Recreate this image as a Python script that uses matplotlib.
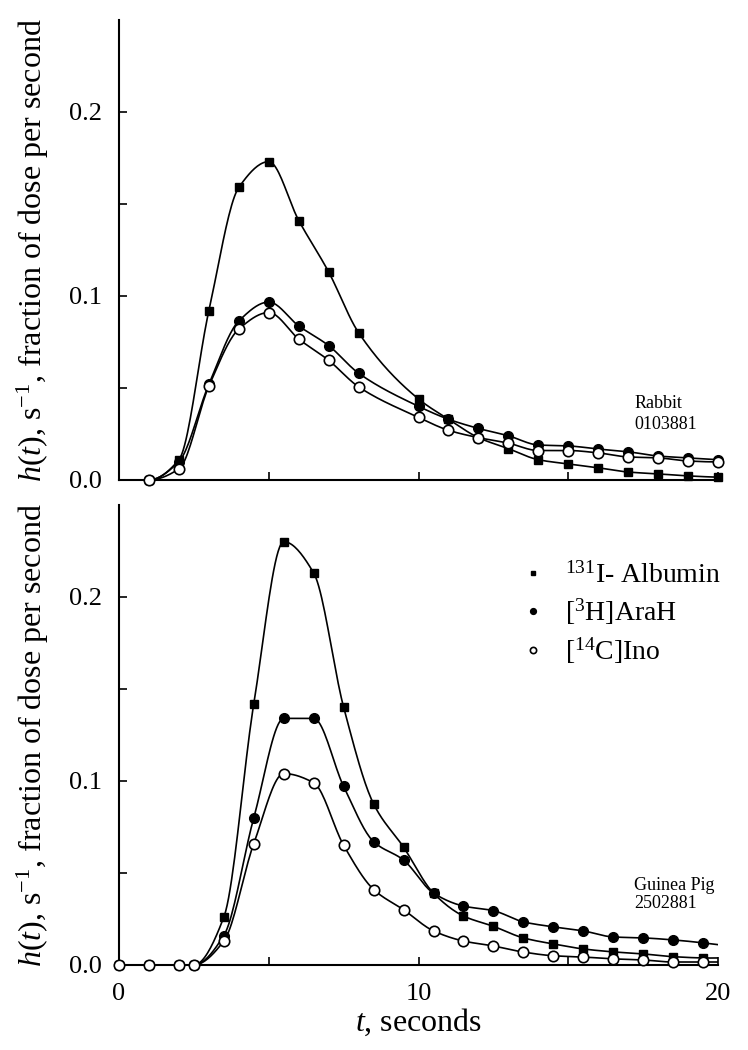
import numpy as np
import matplotlib
matplotlib.use("Agg")
import matplotlib.pyplot as plt

plt.rcParams["font.family"] = ["Liberation Serif", "DejaVu Serif"]
plt.rcParams["mathtext.fontset"] = "custom"
plt.rcParams["mathtext.rm"] = "Liberation Serif"
plt.rcParams["mathtext.it"] = "Liberation Serif:italic"

# Rabbit 0103881
t_top = [1, 2, 3, 4, 5, 6, 7, 8, 10, 11, 12, 13, 14, 15, 16, 17, 18, 19, 20]
albumin_top = [0.0, 0.011, 0.092, 0.159, 0.173, 0.141, 0.113, 0.080, 0.044, 0.033,
               0.023, 0.017, 0.011, 0.0087, 0.0066, 0.0043, 0.0033, 0.0022, 0.0015]
arah_top = [0.0, 0.010, 0.052, 0.0864, 0.0967, 0.0837, 0.073, 0.058, 0.040, 0.033,
            0.028, 0.024, 0.019, 0.0185, 0.0168, 0.0153, 0.013, 0.012, 0.011]
ino_top = [0.0, 0.006, 0.051, 0.082, 0.091, 0.0766, 0.065, 0.0506, 0.034, 0.027,
           0.023, 0.020, 0.016, 0.016, 0.0147, 0.0125, 0.012, 0.0103, 0.0098]

# Guinea Pig 2502881
t_bot = [0, 1, 2, 2.5, 3.5, 4.5, 5.5, 6.5, 7.5, 8.5, 9.5, 10.5, 11.5, 12.5, 13.5,
         14.5, 15.5, 16.5, 17.5, 18.5, 19.5]
albumin_bot = [0.0, 0.0, 0.0, 0.0, 0.026, 0.142, 0.230, 0.213, 0.140, 0.0875, 0.064,
               0.039, 0.0266, 0.021, 0.0147, 0.0114, 0.0087, 0.0071, 0.006, 0.0045, 0.0038]
arah_bot = [0.0, 0.0, 0.0, 0.0, 0.016, 0.080, 0.134, 0.134, 0.097, 0.067, 0.057,
            0.039, 0.032, 0.0295, 0.0234, 0.0207, 0.0185, 0.0152, 0.0147, 0.0136, 0.012]
ino_bot = [0.0, 0.0, 0.0, 0.0, 0.013, 0.066, 0.104, 0.099, 0.065, 0.041, 0.030,
           0.0185, 0.013, 0.0103, 0.007, 0.005, 0.0043, 0.0033, 0.0027, 0.0016, 0.0016]

LABELS = [r"$^{131}$I- Albumin", r"[$^{3}$H]AraH", r"[$^{14}$C]Ino"]


def pchip(x, y, xs):
    """Monotone cubic (Fritsch-Carlson) through (x, y), evaluated at xs."""
    x = np.asarray(x, float)
    y = np.asarray(y, float)
    h = np.diff(x)
    d = np.diff(y) / h
    n = len(x)
    s = np.zeros(n)
    for i in range(1, n - 1):
        if d[i - 1] * d[i] > 0:
            w1 = 2 * h[i] + h[i - 1]
            w2 = h[i] + 2 * h[i - 1]
            s[i] = (w1 + w2) / (w1 / d[i - 1] + w2 / d[i])
    for i, j, k in ((0, 0, 1), (n - 1, -1, -2)):
        hj, hk = h[j], h[k]
        e = ((2 * hj + hk) * d[j] - hj * d[k]) / (hj + hk)
        if np.sign(e) != np.sign(d[j]):
            e = 0.0
        elif np.sign(d[j]) != np.sign(d[k]) and abs(e) > abs(3 * d[j]):
            e = 3 * d[j]
        s[i] = e
    k = np.clip(np.searchsorted(x, xs) - 1, 0, n - 2)
    hk = x[k + 1] - x[k]
    u = (xs - x[k]) / hk
    return ((2 * u**3 - 3 * u**2 + 1) * y[k] + (u**3 - 2 * u**2 + u) * hk * s[k]
            + (-2 * u**3 + 3 * u**2) * y[k + 1] + (u**3 - u**2) * hk * s[k + 1])


def draw_panel(ax, t, series, note, show_xlabels):
    styles = [
        dict(marker="s", ms=5.5, mfc="black", mec="black"),
        dict(marker="o", ms=7, mfc="black", mec="black"),
        dict(marker="o", ms=7.5, mfc="white", mec="black", mew=1.2),
    ]
    ts = np.linspace(t[0], 20, 400)
    handles = []
    for vals, st, lab in zip(series, styles, LABELS):
        ax.plot(ts, pchip(t, vals, ts), color="black", lw=1.2)
        h, = ax.plot(t, vals, ls="none", label=lab, clip_on=False, zorder=3, **st)
        handles.append(h)

    ax.set_xlim(0, 20)
    ax.set_ylim(0, 0.25)
    ax.set_xticks([0, 10, 20])
    ax.set_xticks([5, 15], minor=True)
    ax.set_yticks([0.0, 0.1, 0.2])
    ax.set_yticks([0.05, 0.15], minor=True)
    ax.yaxis.set_major_formatter(matplotlib.ticker.FormatStrFormatter("%.1f"))
    for side in ("top", "right"):
        ax.spines[side].set_visible(False)
    for side in ("left", "bottom"):
        ax.spines[side].set_linewidth(1.5)
    ax.tick_params(which="both", direction="in", length=6, width=1.2, labelsize=19)
    ax.tick_params(axis="y", pad=12)
    ax.tick_params(axis="x", pad=13, labelbottom=show_xlabels)
    ax.set_ylabel(r"$h(t)$, s$^{-1}$, fraction of dose per second", fontsize=23, labelpad=13)
    ax.text(17.2, note[2], note[0] + "\n" + note[1], fontsize=13, va="top",
            linespacing=note[3])
    return handles


fig = plt.figure(figsize=(7.48, 10.5), dpi=100)
ax1 = fig.add_axes([0.1591, 0.5429, 0.8009, 0.4381])
ax2 = fig.add_axes([0.1591, 0.0810, 0.8009, 0.4381])

draw_panel(ax1, t_top, [albumin_top, arah_top, ino_top],
           ("Rabbit", "0103881", 0.046, 1.3), False)
handles = draw_panel(ax2, t_bot, [albumin_bot, arah_bot, ino_bot],
                     ("Guinea Pig", "2502881", 0.048, 1.1), True)

ax2.set_xlabel(r"$t$, seconds", fontsize=23, labelpad=1)
ax2.legend(handles=handles, loc="upper left", bbox_to_anchor=(0.679, 0.876),
           frameon=False, fontsize=20, markerscale=0.6, handlelength=0.5,
           handletextpad=0.9, labelspacing=0.3, borderpad=0, borderaxespad=0)

fig.savefig("out.png", dpi=100)
